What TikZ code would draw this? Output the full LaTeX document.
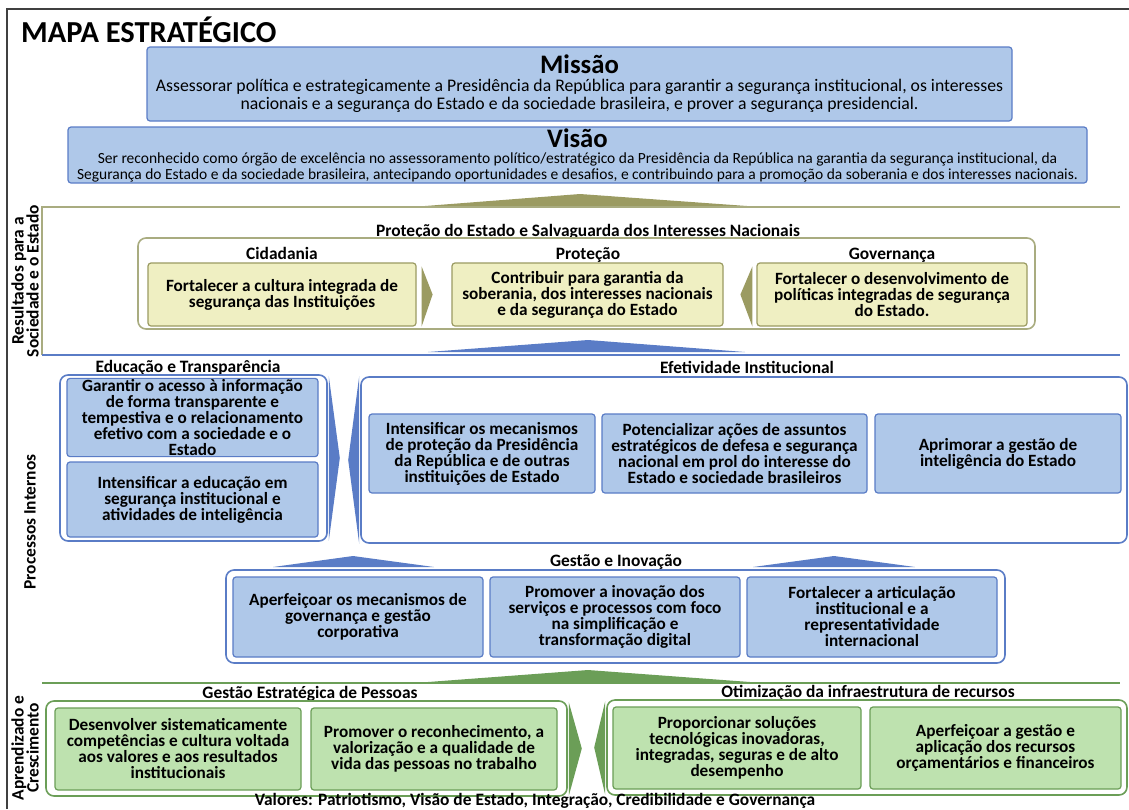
\documentclass[tikz,border=0pt]{standalone}
\usepackage{fontspec}
\setmainfont{Carlito}
\usetikzlibrary{calc}
\definecolor{fillblue}{HTML}{AFC8E9}
\definecolor{drawblue}{HTML}{5A7CC6}
\definecolor{fillyellow}{HTML}{EFEFC2}
\definecolor{drawolive}{HTML}{9B9B62}
\definecolor{lineolive}{HTML}{A9AC80}
\definecolor{fillgreen}{HTML}{BEE2AF}
\definecolor{drawgreen}{HTML}{6B9E57}
\definecolor{framegray}{HTML}{404040}
\newcommand{\boxfont}{\fontsize{17.2}{16}\selectfont\bfseries}
\newcommand{\headfont}{\fontsize{17.4}{15}\selectfont\bfseries}
\newcommand{\bigfont}{\fontsize{26.7}{28}\selectfont\bfseries}
\tikzset{
	blue box/.style={draw=drawblue,fill=fillblue,rounded corners=3pt,line width=1.2pt,
		align=center,inner sep=1pt,font=\boxfont},
	yellow box/.style={blue box,draw=drawolive,fill=fillyellow},
	green box/.style={blue box,draw=drawgreen,fill=fillgreen},
	mv box/.style={blue box,font=\fontsize{17.7}{18}\selectfont},
	group box/.style={draw=drawblue,fill=white,rounded corners=8pt,line width=1.6pt},
	head/.style={font=\headfont,inner sep=0pt,anchor=base},
	side/.style={font=\headfont,rotate=90,align=center,inner sep=0pt},
	box size/.style 2 args={minimum width=#1,minimum height=#2}
}

\begin{document}
\begin{tikzpicture}[x=1pt,y=-1pt]
	\useasboundingbox (0,0) rectangle (1129,809);
	\draw[framegray,line width=2pt] (7,809) -- (7,9) -- (1129,9);
	\node[anchor=west,font=\fontsize{30.5}{31}\selectfont\bfseries,inner sep=0pt] (title) at (21,30) {MAPA ESTRATÉGICO};

	% missao e visao
	\node[mv box,box size={865pt}{74pt}] (m) at (579.5,84) {{\bigfont Missão}\\Assessorar política e estrategicamente a Presidência da República para garantir a segurança institucional, os interesses\\nacionais e a segurança do Estado e da sociedade brasileira, e prover a segurança presidencial.};
	\node[mv box,box size={1019pt}{56pt},font=\fontsize{15.5}{16}\selectfont] (v) at (577.5,155) {{\bigfont Visão}\\Ser reconhecido como órgão de excelência no assessoramento político/estratégico da Presidência da República na garantia da segurança institucional, da\\Segurança  do Estado e da sociedade brasileira, antecipando oportunidades e desafios, e contribuindo para a promoção da soberania e dos interesses nacionais.};

	% faixas
	\fill[drawolive] (425,206) -- (580,194) -- (747,206) -- cycle;
	\draw[lineolive,line width=1.2pt] (1120,207) -- (42,207) -- (42,355);
	\draw[drawblue,line width=1.2pt] (42,355) -- (1120,355);
	\draw[drawgreen,line width=1.2pt] (42,683) -- (1120,683);
	\node[side] (s1) at (25,281) {Resultados para a\\Sociedade e o Estado};
	\node[side] (s2) at (30,522) {Processos Internos};
	\node[side] (s3) at (25,748) {Aprendizado e\\Crescimento};

	% resultados
	\node[head] (h1) at (588,236) {Proteção do Estado e Salvaguarda dos Interesses Nacionais};
	\node[group box,draw=lineolive,box size={897pt}{91pt}] (fr1) at (586.5,283.5) {};
	\node[yellow box,box size={268pt}{63pt}] (r1) at (282,294.5) {Fortalecer a cultura integrada de\\segurança das Instituições};
	\node[yellow box,box size={271pt}{63pt}] (r2) at (587.5,294.5) {Contribuir para garantia da\\soberania, dos interesses nacionais\\e da segurança do Estado};
	\node[yellow box,box size={270pt}{63pt}] (r3) at (892,294.5) {Fortalecer o desenvolvimento de\\políticas integradas de segurança\\do Estado.};
	\node[head] (h2) at (282,259) {Cidadania};
	\node[head] (h3) at (588,259) {Proteção};
	\node[head] (h4) at (892,259.5) {Governança};
	\fill[drawolive] ($(r1.north east)+(5,4)$) -- ($(r1.east)+(16,0)$) -- ($(r1.south east)+(5,0)$) -- cycle;
	\fill[drawolive] ($(r3.north west)+(-4,4)$) -- ($(r3.west)+(-16,0)$) -- ($(r3.south west)+(-4,0)$) -- cycle;
	\fill[drawblue] (428,352) -- (588,340) -- (745,352) -- cycle;

	% processos internos
	\node[head] (h5) at (188,372) {Educação e Transparência};
	\node[group box,box size={267pt}{166pt}] (fr2) at (193.5,458) {};
	\node[blue box,box size={251pt}{75pt}] (e1) at (192.5,417.5) {Garantir o acesso à informação\\de forma transparente e\\tempestiva e o relacionamento\\efetivo com a sociedade e o\\Estado};
	\node[blue box,box size={251pt}{75pt}] (e2) at (192.5,499.5) {Intensificar a educação em\\segurança institucional e\\atividades de inteligência};
	\node[head] (h6) at (747,373) {Efetividade Institucional};
	\node[group box,box size={766pt}{166pt}] (fr3) at (744,460) {};
	\fill[drawblue] ($(fr2.north east)+(1,2)$) -- ($(fr2.east)+(12,0)$) -- ($(fr2.south east)+(1,-1)$) -- cycle;
	\fill[drawblue] ($(fr3.north west)+(-1,0)$) -- ($(fr3.west)+(-12,0)$) -- ($(fr3.south west)+(-1,0)$) -- cycle;
	\node[blue box,box size={226pt}{79pt}] (f1) at (482,453.5) {Intensificar os mecanismos\\de proteção da Presidência\\da República e de outras\\instituições de Estado};
	\node[blue box,box size={265pt}{79pt}] (f2) at (734.5,453.5) {Potencializar ações de assuntos\\estratégicos de defesa e segurança\\nacional em prol do interesse do\\Estado e sociedade brasileiros};
	\node[blue box,box size={246pt}{79pt}] (f3) at (998,453.5) {Aprimorar a gestão de\\inteligência do Estado};

	\fill[drawblue] (273,567) -- (353,556) -- (434,567) -- cycle;
	\fill[drawblue] (753,567) -- (834,556) -- (915,567) -- cycle;
	\node[head] (h7) at (616,566) {Gestão e Inovação};
	\node[group box,box size={779pt}{93pt}] (fr4) at (615.5,616.5) {};
	\node[blue box,box size={250pt}{80pt}] (g1) at (358,617) {Aperfeiçoar os mecanismos de\\governança e gestão\\corporativa};
	\node[blue box,box size={250pt}{80pt}] (g2) at (615,617) {Promover a inovação dos\\serviços e processos com foco\\na simplificação e\\transformação digital};
	\node[blue box,box size={250pt}{80pt}] (g3) at (872,617) {Fortalecer a articulação\\institucional e a\\representatividade\\internacional};
	\fill[drawgreen] (428,682) -- (588,670) -- (750,682) -- cycle;

	% aprendizado e crescimento
	\node[head] (h8) at (310,698) {Gestão Estratégica de Pessoas};
	\node[group box,draw=drawgreen,box size={521pt}{95pt}] (fr5) at (306.5,748.5) {};
	\node[green box,box size={246pt}{82pt}] (p1) at (178,749) {Desenvolver sistematicamente\\competências e cultura voltada\\aos valores e aos resultados\\institucionais};
	\node[green box,box size={246pt}{82pt}] (p2) at (434,749) {Promover o reconhecimento, a\\valorização e a qualidade de\\vida das pessoas no trabalho};
	\node[head] (h9) at (868,697) {Otimização da infraestrutura de recursos};
	\node[group box,draw=drawgreen,box size={520pt}{95pt}] (fr6) at (867,747.5) {};
	\fill[drawgreen] ($(fr5.north east)+(1,2)$) -- ($(fr5.east)+(14,0)$) -- ($(fr5.south east)+(1,-1)$) -- cycle;
	\fill[drawgreen] ($(fr6.north west)+(-1,2)$) -- ($(fr6.west)+(-12,0)$) -- ($(fr6.south west)+(-1,-1)$) -- cycle;
	\node[green box,box size={248pt}{82pt}] (o1) at (737,748) {Proporcionar soluções\\tecnológicas inovadoras,\\integradas, seguras e de alto\\desempenho};
	\node[green box,box size={251pt}{82pt}] (o2) at (995.5,748) {Aperfeiçoar a gestão e\\aplicação dos recursos\\orçamentários e financeiros};
	\node[font=\fontsize{17.4}{18}\selectfont\bfseries,inner sep=0pt] (val) at (535,801) {Valores: Patriotismo, Visão de Estado, Integração, Credibilidade e Governança};
\end{tikzpicture}
\end{document}
